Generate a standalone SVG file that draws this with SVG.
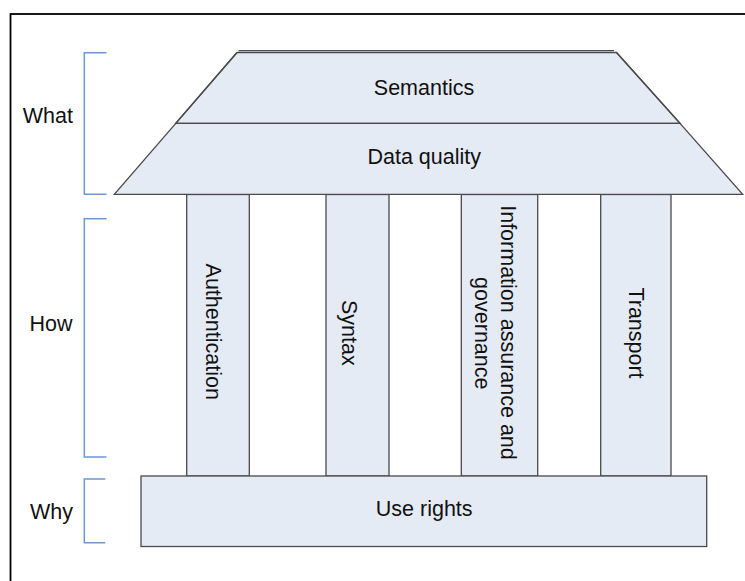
<svg xmlns="http://www.w3.org/2000/svg" width="745" height="581" viewBox="0 0 745 581">
<style>
.shape{fill:#e5ebf5;stroke:#4a4a4a;stroke-width:1.3}
.line{fill:none;stroke:#4a4a4a;stroke-width:1.3}
.brk{fill:none;stroke:#6b97d6;stroke-width:1.5}
text{font-family:"Liberation Sans",Arial,sans-serif;font-size:21.5px;fill:#111}
.c{text-anchor:middle}
.r{text-anchor:end}
</style>
<rect x="10.5" y="14" width="760" height="600" fill="#fff" stroke="#000" stroke-width="1.8"/>
<g id="brackets">
<path class="brk" d="M106.5,52.7 H84.3 V194.3 H106.5"/>
<path class="brk" d="M106.5,218.7 H84.3 V457 H106.5"/>
<path class="brk" d="M105.3,479 H84.3 V542.7 H105.3"/>
</g>
<g id="labels">
<text class="r" x="73" y="122.7">What</text>
<text class="r" x="72.5" y="331">How</text>
<text class="r" x="73" y="518.5">Why</text>
</g>
<g id="pillar-authentication">
<rect class="shape" x="186.7" y="194.5" width="62.6" height="281.5"/>
<text class="c" transform="translate(205.5,331.7) rotate(90)">Authentication</text>
</g>
<g id="pillar-syntax">
<rect class="shape" x="326" y="194.5" width="63" height="281.5"/>
<text class="c" transform="translate(342,332.8) rotate(90)">Syntax</text>
</g>
<g id="pillar-information">
<rect class="shape" x="461.3" y="194.5" width="76.4" height="281.5"/>
<text class="c" transform="translate(500.5,332.5) rotate(90)">Information assurance and</text>
<text class="c" transform="translate(474.5,333.3) rotate(90)">governance</text>
</g>
<g id="pillar-transport">
<rect class="shape" x="600.7" y="194.5" width="70.3" height="281.5"/>
<text class="c" transform="translate(629,333) rotate(90)">Transport</text>
</g>
<g id="data-quality">
<path class="shape" d="M175.8,123.3 H680 L742.7,194.3 H114.3 Z"/>
<text class="c" x="424.2" y="164.3">Data quality</text>
</g>
<g id="semantics">
<path class="shape" d="M237,52.5 H616.5 L680,123.3 H175.8 Z" stroke="none"/>
<path class="line" d="M175.8,123.3 L237,52.5 M616.5,52.5 L680,123.3 M175.8,123.3 H680"/>
<path class="line" d="M238.5,50.7 H614"/>
<text class="c" x="424" y="95">Semantics</text>
</g>
<g id="use-rights">
<rect class="shape" x="141" y="476" width="565.7" height="70.5"/>
<text class="c" x="424.2" y="516">Use rights</text>
</g>
<g id="connectors"></g>
</svg>
